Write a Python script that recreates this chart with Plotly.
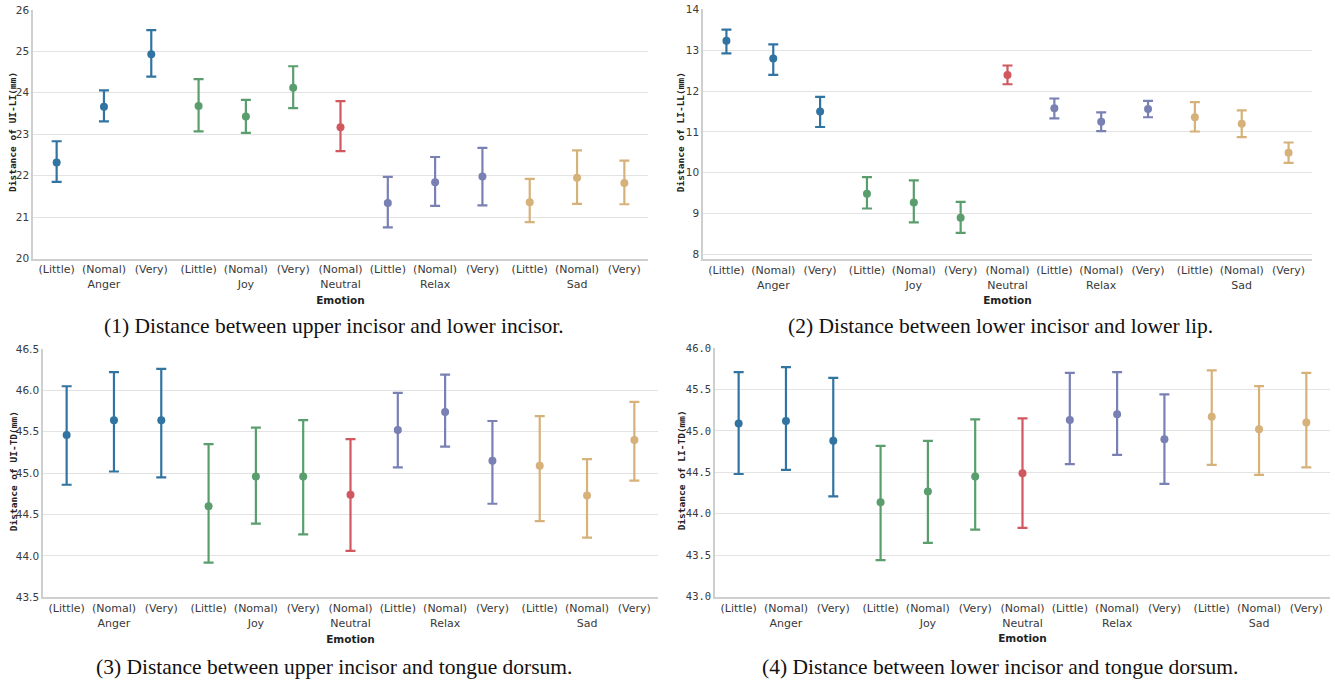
import plotly.graph_objects as go

groups = ["Anger", "Anger", "Anger", "Joy", "Joy", "Joy", "Neutral",
          "Relax", "Relax", "Relax", "Sad", "Sad", "Sad"]
levels = ["(Little)", "(Nomal)", "(Very)", "(Little)", "(Nomal)", "(Very)", "(Nomal)",
          "(Little)", "(Nomal)", "(Very)", "(Little)", "(Nomal)", "(Very)"]

ui_li_mean = [22.32, 23.66, 24.93, 23.68, 23.43, 24.12, 23.17, 21.34, 21.84, 21.98, 21.36, 21.95, 21.82]
ui_li_low = [21.85, 23.31, 24.39, 23.07, 23.03, 23.63, 22.59, 20.75, 21.27, 21.28, 20.88, 21.32, 21.31]
ui_li_high = [22.83, 24.06, 25.51, 24.33, 23.83, 24.64, 23.80, 21.97, 22.45, 22.67, 21.92, 22.61, 22.36]

li_ll_mean = [13.24, 12.80, 11.50, 9.48, 9.27, 8.89, 12.40, 11.58, 11.25, 11.56, 11.36, 11.20, 10.49]
li_ll_low = [12.93, 12.40, 11.12, 9.12, 8.78, 8.52, 12.17, 11.33, 11.02, 11.36, 11.01, 10.87, 10.24]
li_ll_high = [13.51, 13.15, 11.86, 9.89, 9.81, 9.28, 12.63, 11.82, 11.48, 11.76, 11.73, 11.53, 10.74]

ui_td_mean = [45.46, 45.64, 45.64, 44.60, 44.96, 44.96, 44.74, 45.52, 45.74, 45.15, 45.09, 44.73, 45.40]
ui_td_low = [44.86, 45.02, 44.95, 43.92, 44.39, 44.26, 44.06, 45.07, 45.32, 44.63, 44.42, 44.22, 44.91]
ui_td_high = [46.05, 46.22, 46.26, 45.35, 45.55, 45.64, 45.41, 45.97, 46.19, 45.63, 45.69, 45.17, 45.86]

li_td_mean = [45.09, 45.12, 44.88, 44.14, 44.27, 44.45, 44.49, 45.13, 45.20, 44.90, 45.17, 45.02, 45.10]
li_td_low = [44.48, 44.53, 44.21, 43.44, 43.65, 43.81, 43.83, 44.60, 44.71, 44.36, 44.59, 44.47, 44.56]
li_td_high = [45.71, 45.77, 45.64, 44.82, 44.88, 45.14, 45.15, 45.70, 45.71, 45.44, 45.73, 45.54, 45.70]

emotion_colors = {"Anger": "#3274a1", "Joy": "#5a9e6e", "Neutral": "#d0585e",
                  "Relax": "#7880b4", "Sad": "#d6b27a"}

panels = [
    dict(mean=ui_li_mean, low=ui_li_low, high=ui_li_high, ytitle="Distance of UI-LI(mm)",
         yrange=[20, 26.01], dtick=1, fmt="d", tickfont="DejaVu Sans",
         caption="(1) Distance between upper incisor and lower incisor."),
    dict(mean=li_ll_mean, low=li_ll_low, high=li_ll_high, ytitle="Distance of LI-LL(mm)",
         yrange=[7.88, 14.01], dtick=1, fmt="d", tickfont="DejaVu Sans",
         caption="(2) Distance between lower incisor and lower lip."),
    dict(mean=ui_td_mean, low=ui_td_low, high=ui_td_high, ytitle="Distance of UI-TD(mm)",
         yrange=[43.5, 46.5], dtick=0.5, fmt=".1f", tickfont="DejaVu Sans",
         caption="(3) Distance between upper incisor and tongue dorsum."),
    dict(mean=li_td_mean, low=li_td_low, high=li_td_high, ytitle="Distance of LI-TD(mm)",
         yrange=[43.0, 46.0], dtick=0.5, fmt=".1f", tickfont="DejaVu Sans Mono",
         caption="(4) Distance between lower incisor and tongue dorsum."),
]

W, H = 1335, 680


def px(x):
    return x / W


def py(y):
    return 1 - y / H


# pixel boxes in window coords: (left, right, top, bottom)
boxes = [(33, 648, 9.5, 258.5), (703, 1312, 9.3, 259), (43, 658, 349, 597.3), (715, 1330, 348, 596.7)]
caption_pos = [(334, 326), (1000, 326), (334, 667), (1000, 667)]
ytitle_x = [13, 680, 13, 681]

fig = go.Figure()
layout = dict(width=W, height=H, margin=dict(l=0, r=0, t=0, b=0),
              paper_bgcolor="white", plot_bgcolor="white", showlegend=False,
              annotations=[])

for i, p in enumerate(panels):
    n = i + 1
    xa = "x" if n == 1 else f"x{n}"
    ya = "y" if n == 1 else f"y{n}"
    for emo, col in emotion_colors.items():
        idx = [k for k, g in enumerate(groups) if g == emo]
        m = [p["mean"][k] for k in idx]
        lo = [p["low"][k] for k in idx]
        hi = [p["high"][k] for k in idx]
        fig.add_trace(go.Scatter(
            x=[[groups[k] for k in idx], [levels[k] for k in idx]], y=m,
            mode="markers", xaxis=xa, yaxis=ya,
            marker=dict(color=col, size=8),
            error_y=dict(type="data", symmetric=False,
                         array=[h - v for h, v in zip(hi, m)],
                         arrayminus=[v - l for v, l in zip(m, lo)],
                         color=col, thickness=2.2, width=5),
            hoverinfo="skip"))
    l, r, t, b = boxes[i]
    xkey = "xaxis" if n == 1 else f"xaxis{n}"
    ykey = "yaxis" if n == 1 else f"yaxis{n}"
    layout[xkey] = dict(domain=[px(l), px(r)], anchor=ya, type="multicategory",
                        range=[-0.5, len(groups) - 0.5],
                        showdividers=False, showgrid=False, showline=True,
                        linecolor="#cfcfcf", linewidth=1.5, mirror=False,
                        ticks="", automargin=False,
                        tickfont=dict(family="DejaVu Sans", size=11, color="#3a3a3a"),
                        title=dict(text="<b>Emotion</b>", standoff=6,
                                   font=dict(family="DejaVu Sans", size=10.5, color="#222")),
                        zeroline=False, fixedrange=True)
    layout[ykey] = dict(domain=[py(b), py(t)], anchor=xa, range=p["yrange"],
                        dtick=p["dtick"], tick0=0, tickformat=p["fmt"],
                        showgrid=True, gridcolor="#e3e3e3", gridwidth=1,
                        showline=True, linecolor="#cfcfcf", linewidth=1.5,
                        ticks="", automargin=False, zeroline=False,
                        ticklabeloverflow="allow",
                        tickfont=dict(family=p["tickfont"], size=10.5, color="#3a3a3a"),
                        fixedrange=True)
    # y-axis title
    layout["annotations"].append(dict(
        text="<b>" + p["ytitle"] + "</b>", x=px(ytitle_x[i]), y=py((t + b) / 2 - 2),
        xref="paper", yref="paper", showarrow=False, textangle=-90,
        xanchor="center", yanchor="middle",
        font=dict(family="DejaVu Sans Mono", size=9.5, color="#222")))
    cx, cy = caption_pos[i]
    layout["annotations"].append(dict(
        text=p["caption"], x=px(cx), y=py(cy), xref="paper", yref="paper",
        showarrow=False, xanchor="center", yanchor="middle",
        font=dict(family="Liberation Serif", size=21.5, color="#111")))

fig.update_layout(**layout)
fig.write_html("out.html", config={"displayModeBar": False},
               post_script="document.body.style.margin='0px';")
